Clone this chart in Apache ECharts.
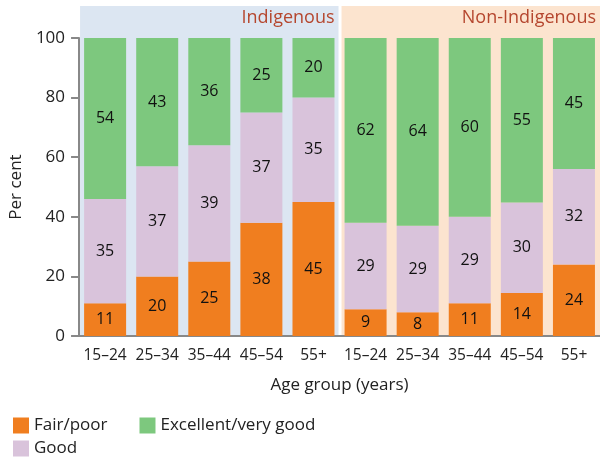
<!DOCTYPE html>
<html><head><meta charset="utf-8">
<script src="https://cdn.jsdelivr.net/npm/echarts@6/dist/echarts.min.js"></script>
<style>html,body{margin:0;padding:0;background:#fff}#c{width:600px;height:459px}</style>
</head><body><div id="c"></div>
<script>
const categories = ['15–24','25–34','35–44','45–54','55+','15–24 ','25–34 ','35–44 ','45–54 ','55+ '];
const fairPoor = [11,20,25,38,45,9,8,11,14.4,24];
const good = [35,37,39,37,35,29,29,29,30.4,32];
const excellent = [54,43,36,25,20,62,64,60,55.2,45];
const groups = ['Indigenous','Non-Indigenous'];
const yTicks = [0,20,40,60,80,100];

const chart = echarts.init(document.getElementById('c'));
const font = 'Open Sans';
const lbl = {show:true, position:'inside', color:'#111', fontSize:16, fontFamily:font,
  formatter:p=>Math.round(p.value)};
function mk(name, data, color){
  return {name, type:'bar', stack:'s', data, barWidth:42, itemStyle:{color}, label:lbl, z:5};
}
const legendBase = {itemWidth:16, itemHeight:16, itemGap:32, icon:'rect',
  textStyle:{color:'#222', fontSize:17, fontFamily:font}, orient:'horizontal'};
chart.setOption({
  animation:false,
  textStyle:{fontFamily:font},
  grid:{left:77, top:38, width:524, bottom:123, containLabel:false},
  xAxis:{type:'category', data:categories,
    axisLine:{show:true, lineStyle:{color:'#888', width:2}},
    axisTick:{show:false},
    axisLabel:{color:'#222', fontSize:15.5, margin:12, interval:0, formatter:v=>v.trim()},
    name:'Age group (years)', nameLocation:'middle', nameGap:41,
    nameTextStyle:{color:'#222', fontSize:17}},
  yAxis:{type:'value', min:yTicks[0], max:yTicks[yTicks.length-1], interval:20,
    axisLine:{show:true, lineStyle:{color:'#888', width:2}},
    axisTick:{show:true, length:8, lineStyle:{color:'#888', width:2}},
    splitLine:{show:false},
    axisLabel:{color:'#222', fontSize:17, margin:14},
    name:'Per cent', nameLocation:'middle', nameGap:47,
    nameTextStyle:{color:'#222', fontSize:17}},
  legend:[
    Object.assign({left:8, top:412, data:['Fair/poor','Excellent/very good']}, legendBase),
    Object.assign({left:8, top:435, data:['Good']}, legendBase)
  ],
  series:[mk('Fair/poor', fairPoor, '#F07E1F'), mk('Good', good, '#D9C3DB'), mk('Excellent/very good', excellent, '#7DC87E')]
});

function drawPanels(){
  const x0 = chart.convertToPixel({xAxisIndex:0}, categories[0]);
  const x1 = chart.convertToPixel({xAxisIndex:0}, categories[1]);
  const step = x1 - x0;
  const yBottom = chart.convertToPixel({yAxisIndex:0}, 0);
  const top = 6;
  const cols = ['#DCE6F2','#FCE4CF'];
  const els = [];
  groups.forEach((g,i)=>{
    const left = x0 - step/2 + i*5*step + (i===0?1:2);
    const right = x0 - step/2 + (i+1)*5*step - (i===0?1:0);
    els.push({type:'rect', z:-1, silent:true, shape:{x:left, y:top, width:right-left, height:yBottom-top}, style:{fill:cols[i]}});
    els.push({type:'text', z:2, silent:true, style:{text:g, x:right-4, y:top+3, align:'right', verticalAlign:'top', fill:'#B5462E', fontSize:18, fontFamily:font}});
  });
  chart.setOption({graphic:els});
}
drawPanels();
</script></body></html>
